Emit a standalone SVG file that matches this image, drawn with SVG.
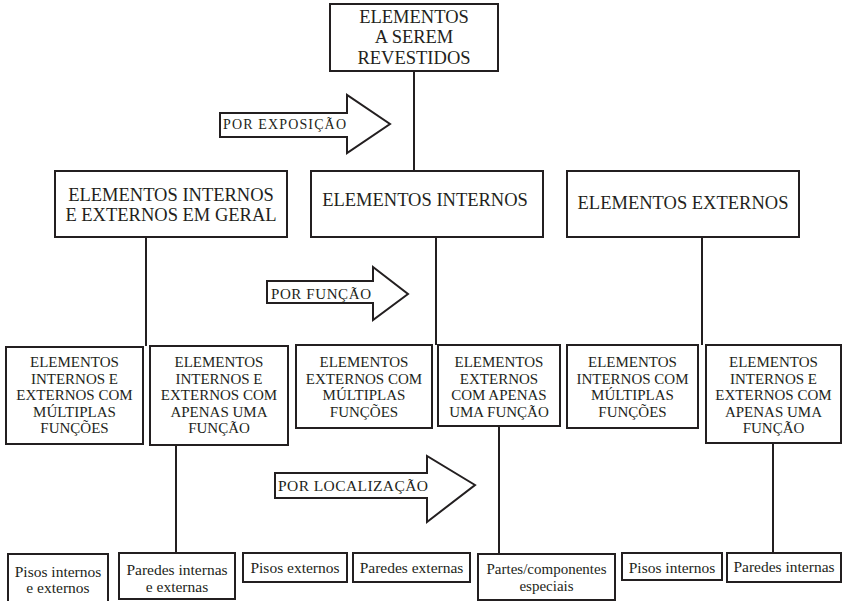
<svg xmlns="http://www.w3.org/2000/svg" width="843" height="601" viewBox="0 0 843 601">
<style>
.box{fill:#fff;stroke:#231f20;stroke-width:2}
.arr{fill:#fff;stroke:#231f20;stroke-width:2;stroke-linejoin:miter}
.ln{stroke:#231f20;stroke-width:2;fill:none}
text{fill:#231f20;text-anchor:middle}
.t18{font-size:18.5px}
.t15{font-size:15px}
.t155{font-size:15.5px}
.ta{text-anchor:start}
</style>
<rect width="843" height="601" fill="#fff"/>
<g id="connectors">
<line class="ln" x1="414" y1="71" x2="414" y2="171"/>
<line class="ln" x1="146" y1="237" x2="146" y2="346"/>
<line class="ln" x1="436" y1="237" x2="436" y2="345"/>
<line class="ln" x1="702" y1="237" x2="702" y2="345"/>
<line class="ln" x1="176" y1="445" x2="176" y2="553"/>
<line class="ln" x1="499" y1="426" x2="499" y2="554"/>
<line class="ln" x1="773" y1="443" x2="773" y2="553"/>
</g>
<g font-family="Times New Roman, Liberation Serif, Tinos, DejaVu Serif, serif">
<g id="arrow-exposicao">
<polygon class="arr" points="220,113 347,113 347,95 390,124 347,153 347,137 220,137"/>
<text class="ta" x="223" y="129" font-size="14" textLength="123">POR EXPOSIÇÃO</text>
</g>
<g id="arrow-funcao">
<polygon class="arr" points="267,281 373,281 373,267 408,294 373,320 373,303 267,303"/>
<text class="ta" x="271" y="299" font-size="15" textLength="100">POR FUNÇÃO</text>
</g>
<g id="arrow-localizacao">
<polygon class="arr" points="275,473 427,473 427,456 475,485 427,522 427,498 275,498"/>
<text class="ta" x="278" y="491" font-size="15.5" textLength="150">POR LOCALIZAÇÃO</text>
</g>
<g id="n-top">
<rect class="box" x="330" y="4" width="168" height="67"/>
<text class="t18" x="414" y="23">ELEMENTOS</text>
<text class="t18" x="414" y="43">A SEREM</text>
<text class="t18" x="414" y="64">REVESTIDOS</text>
</g>
<g id="n-geral">
<rect class="box" x="55" y="171" width="232" height="66"/>
<text class="t18" x="171" y="201">ELEMENTOS INTERNOS</text>
<text class="t18" x="171" y="221">E EXTERNOS EM GERAL</text>
</g>
<g id="n-internos">
<rect class="box" x="311" y="171" width="232" height="66"/>
<text class="t18" x="425" y="206">ELEMENTOS INTERNOS</text>
</g>
<g id="n-externos">
<rect class="box" x="567" y="171" width="232" height="66"/>
<text class="t18" x="683" y="209">ELEMENTOS EXTERNOS</text>
</g>
<g id="n-ie-mult">
<rect class="box" x="6" y="347" width="137" height="97"/>
<text class="t15" x="74.5" y="367">ELEMENTOS</text>
<text class="t15" x="74.5" y="384">INTERNOS E</text>
<text class="t15" x="74.5" y="400">EXTERNOS COM</text>
<text class="t15" x="74.5" y="417">MÚLTIPLAS</text>
<text class="t15" x="74.5" y="433">FUNÇÕES</text>
</g>
<g id="n-ie-uma">
<rect class="box" x="150" y="346" width="138" height="99"/>
<text class="t15" x="219" y="367">ELEMENTOS</text>
<text class="t15" x="219" y="384">INTERNOS E</text>
<text class="t15" x="219" y="400">EXTERNOS COM</text>
<text class="t15" x="219" y="417">APENAS UMA</text>
<text class="t15" x="219" y="433">FUNÇÃO</text>
</g>
<g id="n-e-mult">
<rect class="box" x="296" y="345" width="136" height="83"/>
<text class="t15" x="364" y="367">ELEMENTOS</text>
<text class="t15" x="364" y="384">EXTERNOS COM</text>
<text class="t15" x="364" y="400">MÚLTIPLAS</text>
<text class="t15" x="364" y="417">FUNÇÕES</text>
</g>
<g id="n-e-uma">
<rect class="box" x="438" y="345" width="122" height="81"/>
<text class="t15" x="499" y="367">ELEMENTOS</text>
<text class="t15" x="499" y="384">EXTERNOS</text>
<text class="t15" x="499" y="400">COM APENAS</text>
<text class="t15" x="499" y="417">UMA FUNÇÃO</text>
</g>
<g id="n-i-mult">
<rect class="box" x="567" y="345" width="131" height="83"/>
<text class="t15" x="632.5" y="367">ELEMENTOS</text>
<text class="t15" x="632.5" y="384">INTERNOS COM</text>
<text class="t15" x="632.5" y="400">MÚLTIPLAS</text>
<text class="t15" x="632.5" y="417">FUNÇÕES</text>
</g>
<g id="n-ie-uma2">
<rect class="box" x="706" y="345" width="135" height="98"/>
<text class="t15" x="773.5" y="367">ELEMENTOS</text>
<text class="t15" x="773.5" y="384">INTERNOS E</text>
<text class="t15" x="773.5" y="400">EXTERNOS COM</text>
<text class="t15" x="773.5" y="417">APENAS UMA</text>
<text class="t15" x="773.5" y="433">FUNÇÃO</text>
</g>
<g id="n-pisos-ie">
<rect class="box" x="8" y="554" width="100" height="60"/>
<text class="t155" x="58" y="577">Pisos internos</text>
<text class="t155" x="58" y="593">e externos</text>
</g>
<g id="n-paredes-ie">
<rect class="box" x="119" y="553" width="116" height="46"/>
<text class="t155" x="177" y="575">Paredes internas</text>
<text class="t155" x="177" y="592">e externas</text>
</g>
<g id="n-pisos-ext">
<rect class="box" x="243" y="553" width="104" height="29"/>
<text class="t155" x="295" y="573">Pisos externos</text>
</g>
<g id="n-paredes-ext">
<rect class="box" x="353" y="553" width="117" height="29"/>
<text class="t155" x="411.5" y="573">Paredes externas</text>
</g>
<g id="n-partes">
<rect class="box" x="478" y="554" width="137" height="46"/>
<text class="t15" x="546.5" y="574">Partes/componentes</text>
<text class="t15" x="546.5" y="591">especiais</text>
</g>
<g id="n-pisos-int">
<rect class="box" x="622" y="553" width="100" height="27"/>
<text class="t155" x="672" y="573">Pisos internos</text>
</g>
<g id="n-paredes-int">
<rect class="box" x="727" y="553" width="114" height="29"/>
<text class="t155" x="784" y="572">Paredes internas</text>
</g>
</g>
</svg>
